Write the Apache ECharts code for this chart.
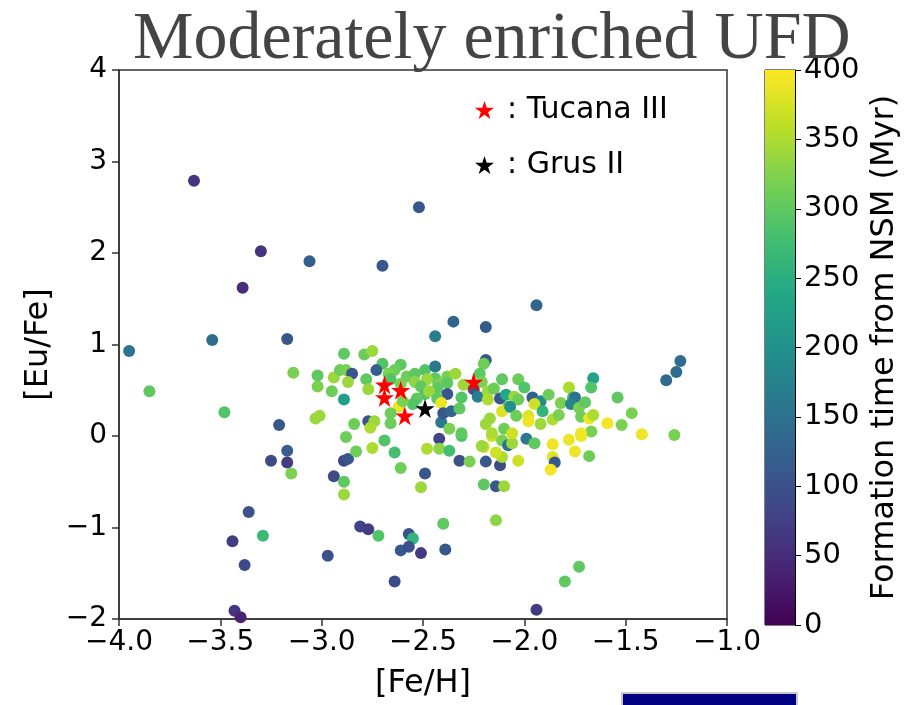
<!DOCTYPE html>
<html>
<head>
<meta charset="utf-8">
<script src="https://cdn.jsdelivr.net/npm/echarts@6/dist/echarts.min.js"></script>
<style>html,body{margin:0;padding:0;background:#fff;}#c{width:917px;height:705px;}</style>
</head>
<body>
<div id="c"></div>
<script>
// [Fe/H] values
const feH = [
-3.63,-3.30,-3.39,-3.06,-2.70,-2.52,-1.94,-2.19,-2.35,-2.44,
-3.95,-3.54,-3.17,-3.14,-3.85,-3.48,-3.21,-3.17,-1.30,-1.25,
-1.23,-1.26,-1.42,-1.54,-1.47,-1.52,-1.59,-1.66,-1.67,-3.44,
-3.36,-3.38,-3.29,-3.43,-3.40,-3.25,-3.17,-3.15,-2.94,-2.89,
-2.87,-2.89,-2.89,-2.97,-2.81,-2.77,-2.72,-2.83,-2.75,-2.64,
-2.61,-2.64,-2.61,-2.69,-2.42,-2.48,-2.42,-2.37,-2.31,-2.32,
-2.27,-2.19,-2.12,-2.20,-2.16,-2.11,-2.08,-2.06,-2.11,-2.03,
-1.99,-1.95,-1.86,-1.86,-1.85,-1.87,-1.78,-1.75,-1.72,-1.68,
-2.49,-2.51,-2.20,-2.14,-2.10,-2.14,-2.40,-2.57,-2.55,-2.57,
-2.51,-2.39,-1.73,-1.80,-1.94,-2.89,-2.79,-2.75,-2.70,-2.73,
-2.61,-2.64,-2.67,-3.02,-3.02,-2.94,-2.91,-2.88,-2.85,-2.87,
-2.78,-2.95,-2.77,-2.89,-2.66,-2.58,-2.54,-2.49,-2.44,-2.44,
-2.38,-2.34,-2.54,-2.48,-2.42,-2.38,-2.61,-2.51,-2.43,-2.38,
-2.49,-2.47,-2.53,-2.43,-2.55,-2.41,-2.62,-2.60,-2.66,-2.77,
-2.74,-2.66,-2.84,-2.76,-2.88,-3.01,-3.03,-2.41,-2.40,-2.36,
-2.32,-2.31,-2.37,-2.31,-2.19,-2.20,-2.22,-2.21,-2.30,-2.25,
-2.23,-2.18,-2.18,-2.15,-2.11,-2.12,-2.09,-2.08,-2.11,-2.17,
-2.19,-2.16,-2.10,-2.06,-2.21,-2.14,-2.03,-2.00,-2.05,-2.03,
-2.07,-1.96,-1.92,-1.95,-1.91,-1.88,-1.82,-1.78,-1.76,-1.75,
-1.77,-1.73,-1.70,-1.72,-1.68,-1.66,-1.67,-1.72,-2.04,-1.98,
-1.98,-1.92,-1.86,-1.83
];
// [Eu/Fe] values
const euFe = [
2.79,2.02,1.62,1.91,1.86,2.50,1.43,1.19,1.25,1.09,
0.93,1.05,1.06,0.69,0.49,0.26,0.12,-0.16,0.61,0.70,
0.82,0.01,0.02,0.42,0.25,0.12,0.14,0.63,0.53,-1.15,
-0.83,-1.41,-1.09,-1.91,-1.98,-0.27,-0.29,-0.41,-0.44,-0.27,
-0.25,-0.50,-0.64,-1.31,-0.99,-1.02,-1.09,-0.17,-0.13,-0.18,
-0.35,-1.59,-1.25,-0.05,-0.03,-0.14,-0.14,-0.16,0.00,-0.27,
-0.28,-0.28,-0.32,-0.12,0.00,-0.05,-0.10,-0.08,-0.23,-0.27,
-0.03,-0.08,-0.09,-0.23,-0.29,-0.37,-0.04,-0.17,0.00,-0.22,
-0.41,-0.56,-0.53,-0.55,-0.55,-0.92,-0.96,-1.07,-1.12,-1.21,
-1.28,-1.24,-1.43,-1.59,-1.90,0.90,0.89,0.93,0.79,0.72,
0.78,0.72,0.68,0.66,0.54,0.64,0.72,0.72,0.68,0.59,
0.62,0.49,0.51,0.40,0.62,0.65,0.68,0.72,0.76,0.63,
0.65,0.68,0.59,0.62,0.57,0.58,0.57,0.54,0.52,0.46,
0.46,0.49,0.41,0.41,0.35,0.36,0.32,0.38,0.25,0.16,
0.16,0.14,0.13,0.09,-0.01,0.22,0.19,0.15,0.25,0.27,
0.30,0.42,0.08,0.03,0.83,0.79,0.68,0.59,0.56,0.51,
0.43,0.49,0.40,0.52,0.62,0.41,0.45,0.32,0.27,0.19,
0.13,0.03,0.08,0.03,-0.11,-0.18,0.62,0.53,0.43,0.40,
0.32,0.42,0.38,0.35,0.27,0.45,0.36,0.53,0.42,0.42,
0.35,0.31,0.37,0.21,0.19,0.23,0.05,0.03,0.22,0.22,
0.16,0.13,0.18,0.23
];
// Formation time from NSM (Myr)
const tForm = [
60,60,50,120,110,110,130,115,130,170,
150,145,110,320,300,290,110,120,140,140,
140,320,390,300,320,320,395,230,290,70,
100,90,270,60,40,90,70,320,90,80,
110,300,340,100,80,70,290,310,350,280,
310,90,110,290,80,350,330,280,290,100,
320,110,90,370,370,320,150,340,350,370,
160,300,390,380,110,395,390,390,390,310,
110,340,300,110,340,330,300,100,260,100,
70,110,300,300,70,300,310,340,290,120,
300,310,320,300,320,340,310,320,100,340,
300,310,340,220,290,310,300,290,160,300,
320,340,330,340,320,300,320,300,300,110,
290,340,300,300,290,390,390,320,310,100,
340,310,310,350,310,340,340,160,110,130,
300,290,320,300,110,310,300,320,340,100,
170,340,350,310,300,110,240,300,380,340,
340,350,310,370,340,370,310,290,340,310,
200,120,190,370,260,310,320,350,280,150,
180,320,300,310,390,350,320,390,310,380,
390,340,350,320
];
// Tucana III stars
const tucFeH = [-2.69,-2.69,-2.61,-2.59,-2.25];
const tucEuFe = [0.56,0.42,0.50,0.22,0.59];
// Grus II star
const grusFeH = [-2.49];
const grusEuFe = [0.30];
// Tick values
const xTicks = [-4.0,-3.5,-3.0,-2.5,-2.0,-1.5,-1.0];
const yTicks = [-2,-1,0,1,2,3,4];
const cbTicks = [0,50,100,150,200,250,300,350,400];

const viridis = ['#440154','#482475','#414487','#355f8d','#2a788e','#21918c','#22a884','#44bf70','#7ad151','#bddf26','#fde725'];
const star = 'path://M50,0 L61.2,34.5 L97.6,34.5 L68.2,55.9 L79.4,90.5 L50,69.1 L20.6,90.5 L31.8,55.9 L2.4,34.5 L38.8,34.5 Z';
const minus = s => s.replace('-', '\u2212');
const FONT = 'DejaVu Sans';

const pts = feH.map((x, i) => [x, euFe[i], tForm[i]]);

const chart = echarts.init(document.getElementById('c'));
chart.setOption({
  animation: false,
  backgroundColor: '#fff',
  title: {
    text: 'Moderately enriched UFD',
    left: 128, top: 1,
    textStyle: {fontFamily: 'Liberation Serif', fontSize: 68, fontWeight: 'normal', color: '#444'}
  },
  legend: {
    orient: 'vertical', left: 470, top: 89, itemGap: 23,
    itemWidth: 19, itemHeight: 19,
    textStyle: {fontFamily: FONT, fontSize: 30, color: '#000', lineHeight: 32, padding: [0,0,0,8]},
    data: [{name: ': Tucana III', icon: star}, {name: ': Grus II', icon: star}],
    selectedMode: false
  },
  grid: [
    {left: 119, right: 190, top: 70, bottom: 80, show: true, borderColor: '#333', borderWidth: 1.5, backgroundColor: 'transparent'},
    {left: 765, right: 122, top: 70, bottom: 80, show: true, borderColor: '#000', borderWidth: 1, backgroundColor: 'transparent'}
  ],
  visualMap: {
    show: false, type: 'continuous', seriesIndex: 0, dimension: 2,
    min: 0, max: 400, inRange: {color: viridis}
  },
  xAxis: [
    {gridIndex: 0, type: 'value', min: xTicks[0], max: xTicks[xTicks.length-1], interval: 0.5,
     name: '[Fe/H]', nameLocation: 'middle', nameGap: 49,
     nameTextStyle: {fontFamily: FONT, fontSize: 32, color: '#000'},
     axisLine: {show: true, onZero: false, lineStyle: {color: '#333', width: 1.5}},
     axisTick: {show: true, length: 7, lineStyle: {color: '#333', width: 1.5}},
     axisLabel: {fontFamily: FONT, fontSize: 28, color: '#000', margin: 10, formatter: v => minus(v.toFixed(1))},
     splitLine: {show: false}},
    {gridIndex: 1, type: 'category', data: ['cb'], show: false}
  ],
  yAxis: [
    {gridIndex: 0, type: 'value', min: yTicks[0], max: yTicks[yTicks.length-1], interval: 1,
     name: '[Eu/Fe]', nameLocation: 'middle', nameGap: 64,
     nameTextStyle: {fontFamily: FONT, fontSize: 32, color: '#000'},
     axisLine: {show: true, onZero: false, lineStyle: {color: '#333', width: 1.5}},
     axisTick: {show: true, length: 7, lineStyle: {color: '#333', width: 1.5}},
     axisLabel: {fontFamily: FONT, fontSize: 28, color: '#000', margin: 12, formatter: v => minus(String(v))},
     splitLine: {show: false}},
    {gridIndex: 1, type: 'value', position: 'right', min: cbTicks[0], max: cbTicks[cbTicks.length-1], interval: 50,
     name: 'Formation time from NSM (Myr)', nameLocation: 'middle', nameGap: 74,
     nameTextStyle: {fontFamily: FONT, fontSize: 32, color: '#000'},
     axisLine: {show: true, lineStyle: {color: '#000', width: 1}},
     axisTick: {show: true, length: 6, lineStyle: {color: '#000', width: 1}},
     axisLabel: {fontFamily: FONT, fontSize: 29, color: '#000', margin: 9},
     splitLine: {show: false}}
  ],
  series: [
    {type: 'scatter', xAxisIndex: 0, yAxisIndex: 0, symbolSize: 12, data: pts, z: 2, itemStyle: {opacity: 1}},
    {name: ': Tucana III', type: 'scatter', xAxisIndex: 0, yAxisIndex: 0, symbol: star, symbolSize: 19,
     itemStyle: {color: '#ff0000', opacity: 1}, data: tucFeH.map((x, i) => [x, tucEuFe[i]]), z: 3},
    {name: ': Grus II', type: 'scatter', xAxisIndex: 0, yAxisIndex: 0, symbol: star, symbolSize: 19,
     itemStyle: {color: '#000000', opacity: 1}, data: grusFeH.map((x, i) => [x, grusEuFe[i]]), z: 3},
    {type: 'bar', xAxisIndex: 1, yAxisIndex: 1, data: [cbTicks[cbTicks.length-1]], barWidth: '100%',
     itemStyle: {color: new echarts.graphic.LinearGradient(0, 1, 0, 0, viridis.map((c, i) => ({offset: i/(viridis.length-1), color: c})))}}
  ],
  graphic: [
    {type: 'rect', shape: {x: 622, y: 693, width: 175, height: 14}, style: {fill: '#000080', stroke: '#c8c8c8', lineWidth: 2}, z: 10}
  ]
});
</script>
</body>
</html>
